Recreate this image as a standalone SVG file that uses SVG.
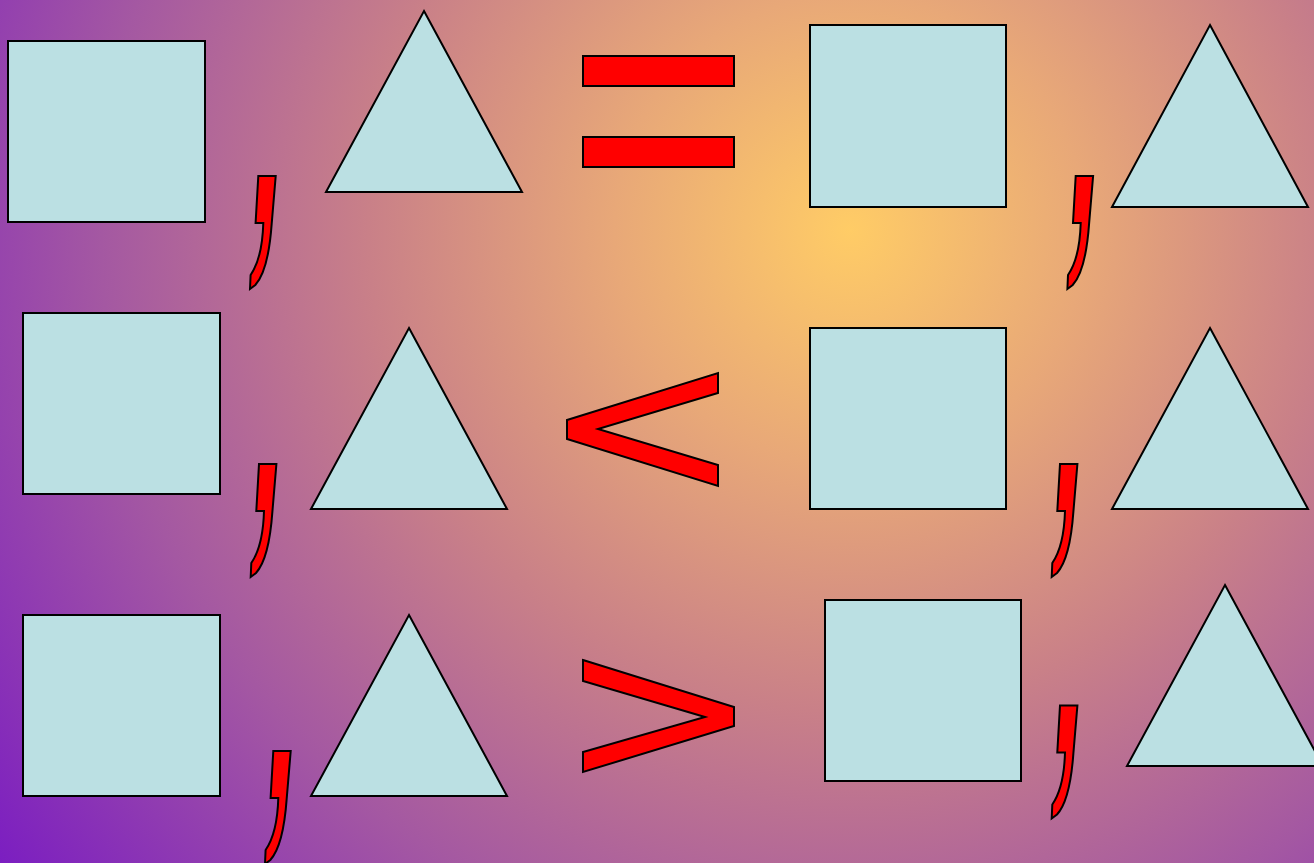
<svg xmlns="http://www.w3.org/2000/svg" width="1314" height="863" viewBox="0 0 1314 863">
<defs>
<radialGradient id="bg" gradientUnits="userSpaceOnUse" cx="850" cy="230" r="1070">
<stop offset="0" stop-color="#FFCC66"/>
<stop offset="0.22" stop-color="#E8A878"/>
<stop offset="0.45" stop-color="#C98088"/>
<stop offset="0.7" stop-color="#A458A2"/>
<stop offset="1" stop-color="#7A1CC2"/>
</radialGradient>
<path id="comma" d="M0,0 L17.4,0 L13.4,47.7 Q10,95 -3,109 L-8.3,113 L-7.7,99 Q4,82 5,47 L-2.7,47 Z"/>
</defs>
<style>
.sq,.tri{fill:#BBE0E3;stroke:#000;stroke-width:2}
.sym{fill:#FF0000;stroke:#000;stroke-width:2;stroke-linejoin:miter}
</style>
<rect width="1314" height="863" fill="url(#bg)"/>
<g id="row1">
<rect id="sq1" class="sq" x="8" y="41" width="197" height="181"/>
<use id="comma1" class="sym" href="#comma" x="258.3" y="176"/>
<polygon id="tri1" class="tri" points="424,11 522,192 326,192"/>
<g id="eq" class="sym"><rect x="583" y="56" width="151" height="30"/><rect x="583" y="137" width="151" height="30"/></g>
<rect id="sq2" class="sq" x="810" y="25" width="196" height="182"/>
<use id="comma2" class="sym" href="#comma" x="1075.7" y="176"/>
<polygon id="tri2" class="tri" points="1210,25 1308,207 1112,207"/>
</g>
<g id="row2">
<rect id="sq3" class="sq" x="23" y="313" width="197" height="181"/>
<use id="comma3" class="sym" href="#comma" x="259" y="464"/>
<polygon id="tri3" class="tri" points="409,328 507,509 311,509"/>
<polygon id="lt" class="sym" points="567,420 718,373 718,393 598,429 718,465 718,486 567,439"/>
<rect id="sq4" class="sq" x="810" y="328" width="196" height="181"/>
<use id="comma4" class="sym" href="#comma" x="1060" y="464"/>
<polygon id="tri4" class="tri" points="1210,328 1308,509 1112,509"/>
</g>
<g id="row3">
<rect id="sq5" class="sq" x="23" y="615" width="197" height="181"/>
<use id="comma5" class="sym" href="#comma" x="273.3" y="751"/>
<polygon id="tri5" class="tri" points="409,615 507,796 311,796"/>
<polygon id="gt" class="sym" points="583,660 734,707 734,726 583,772 583,752 705,717 583,681"/>
<rect id="sq6" class="sq" x="825" y="600" width="196" height="181"/>
<use id="comma6" class="sym" href="#comma" x="1060" y="705.5"/>
<polygon id="tri6" class="tri" points="1225,585 1323,766 1127,766"/>
</g>
</svg>
